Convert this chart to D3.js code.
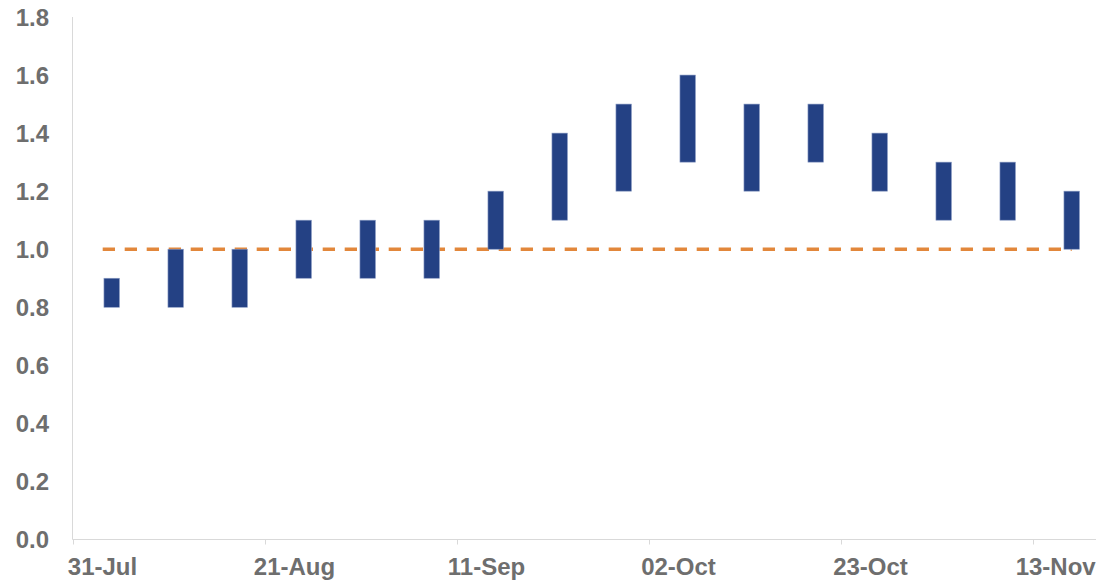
<!DOCTYPE html>
<html>
<head>
<meta charset="utf-8">
<script src="https://cdn.jsdelivr.net/npm/d3@7"></script>
<style>
  html, body { margin: 0; padding: 0; background: #ffffff; }
  svg { display: block; }
  text { font-family: "Liberation Sans", Arial, sans-serif; font-weight: bold; fill: #6e6e6e; }
</style>
</head>
<body>
<svg id="chart" width="1108" height="582"></svg>
<script>
// Weekly R range estimates (lower and upper bounds)
const dates = ["2020-07-31","2020-08-07","2020-08-14","2020-08-21","2020-08-28","2020-09-04",
               "2020-09-11","2020-09-18","2020-09-25","2020-10-02","2020-10-09","2020-10-16",
               "2020-10-23","2020-10-30","2020-11-06","2020-11-13"];
const lower = [0.8, 0.8, 0.8, 0.9, 0.9, 0.9, 1.0, 1.1, 1.2, 1.3, 1.2, 1.3, 1.2, 1.1, 1.1, 1.0];
const upper = [0.9, 1.0, 1.0, 1.1, 1.1, 1.1, 1.2, 1.4, 1.5, 1.6, 1.5, 1.5, 1.4, 1.3, 1.3, 1.2];
const threshold = 1.0;
const yTicks = [0, 0.2, 0.4, 0.6, 0.8, 1.0, 1.2, 1.4, 1.6, 1.8];
const xTickDates = ["2020-07-31","2020-08-21","2020-09-11","2020-10-02","2020-10-23","2020-11-13"];

const parse = d3.timeParse("%Y-%m-%d");
const fmtDate = d3.timeFormat("%d-%b");
const days = dates.map(parse);
const data = days.map((d, i) => ({ date: d, lo: lower[i], hi: upper[i] }));

const svg = d3.select("#chart");
const chartRight = 1096;

// Date axis: tick marks sit at slot boundaries, columns sit inside the slot
const x = d3.scaleTime()
  .domain([parse(xTickDates[0]), parse(xTickDates[xTickDates.length - 1])])
  .range([73, 1033]);
const slotOffset = 38.7;   // column centre relative to its date tick
const labelOffset = 29;    // label centre relative to its date tick
const barW = 15.5;

const y = d3.scaleLinear().domain([0, 1.8]).range([539.5, 17]);

// Y axis line and labels
svg.append("line")
  .attr("x1", 72.5).attr("x2", 72.5)
  .attr("y1", y(1.8)).attr("y2", y(0))
  .attr("stroke", "#d9d9d9").attr("stroke-width", 1);

svg.append("g").selectAll("text")
  .data(yTicks)
  .join("text")
  .attr("x", 49)
  .attr("y", d => y(d))
  .attr("dy", "0.36em")
  .attr("text-anchor", "end")
  .attr("font-size", 24)
  .text(d => d3.format(".1f")(d));

// X axis
const xAxis = d3.axisBottom(x)
  .tickValues(xTickDates.map(parse))
  .tickSize(5)
  .tickFormat(fmtDate);

const gx = svg.append("g")
  .attr("transform", `translate(0,${y(0)})`)
  .call(xAxis);
gx.select(".domain").remove();
gx.attr("font-family", null).attr("font-size", null);
gx.selectAll(".tick line").attr("stroke", "#d9d9d9");
gx.selectAll(".tick text")
  .attr("dx", labelOffset)
  .attr("y", 0)
  .attr("dy", 35.5)
  .attr("font-size", 24)
  .attr("fill", null);

// keep the last label inside the chart area
gx.selectAll(".tick text").each(function () {
  const b = this.getBBox();
  const tx = +this.parentNode.getAttribute("transform").match(/translate\(([-\d.]+)/)[1];
  const right = tx + labelOffset + b.width / 2;
  if (right > chartRight) d3.select(this).attr("dx", labelOffset - (right - chartRight));
});

svg.append("line")
  .attr("x1", 72.5).attr("x2", chartRight)
  .attr("y1", y(0)).attr("y2", y(0))
  .attr("stroke", "#d9d9d9").attr("stroke-width", 1);

// Threshold line at R = 1
svg.append("line")
  .attr("x1", x(days[0]) + labelOffset + 0.7)
  .attr("x2", x(days[days.length - 1]) + slotOffset)
  .attr("y1", y(threshold)).attr("y2", y(threshold))
  .attr("stroke", "#e2873b")
  .attr("stroke-width", 3.5)
  .attr("stroke-dasharray", "12.3 9.7");

// Range columns
svg.append("g").selectAll("rect")
  .data(data)
  .join("rect")
  .attr("x", d => x(d.date) + slotOffset - barW / 2)
  .attr("width", barW)
  .attr("y", d => y(d.hi))
  .attr("height", d => y(d.lo) - y(d.hi))
  .attr("fill", "#244184")
  .attr("stroke", "#8b9cc4")
  .attr("stroke-width", 0.6);
</script>
</body>
</html>
